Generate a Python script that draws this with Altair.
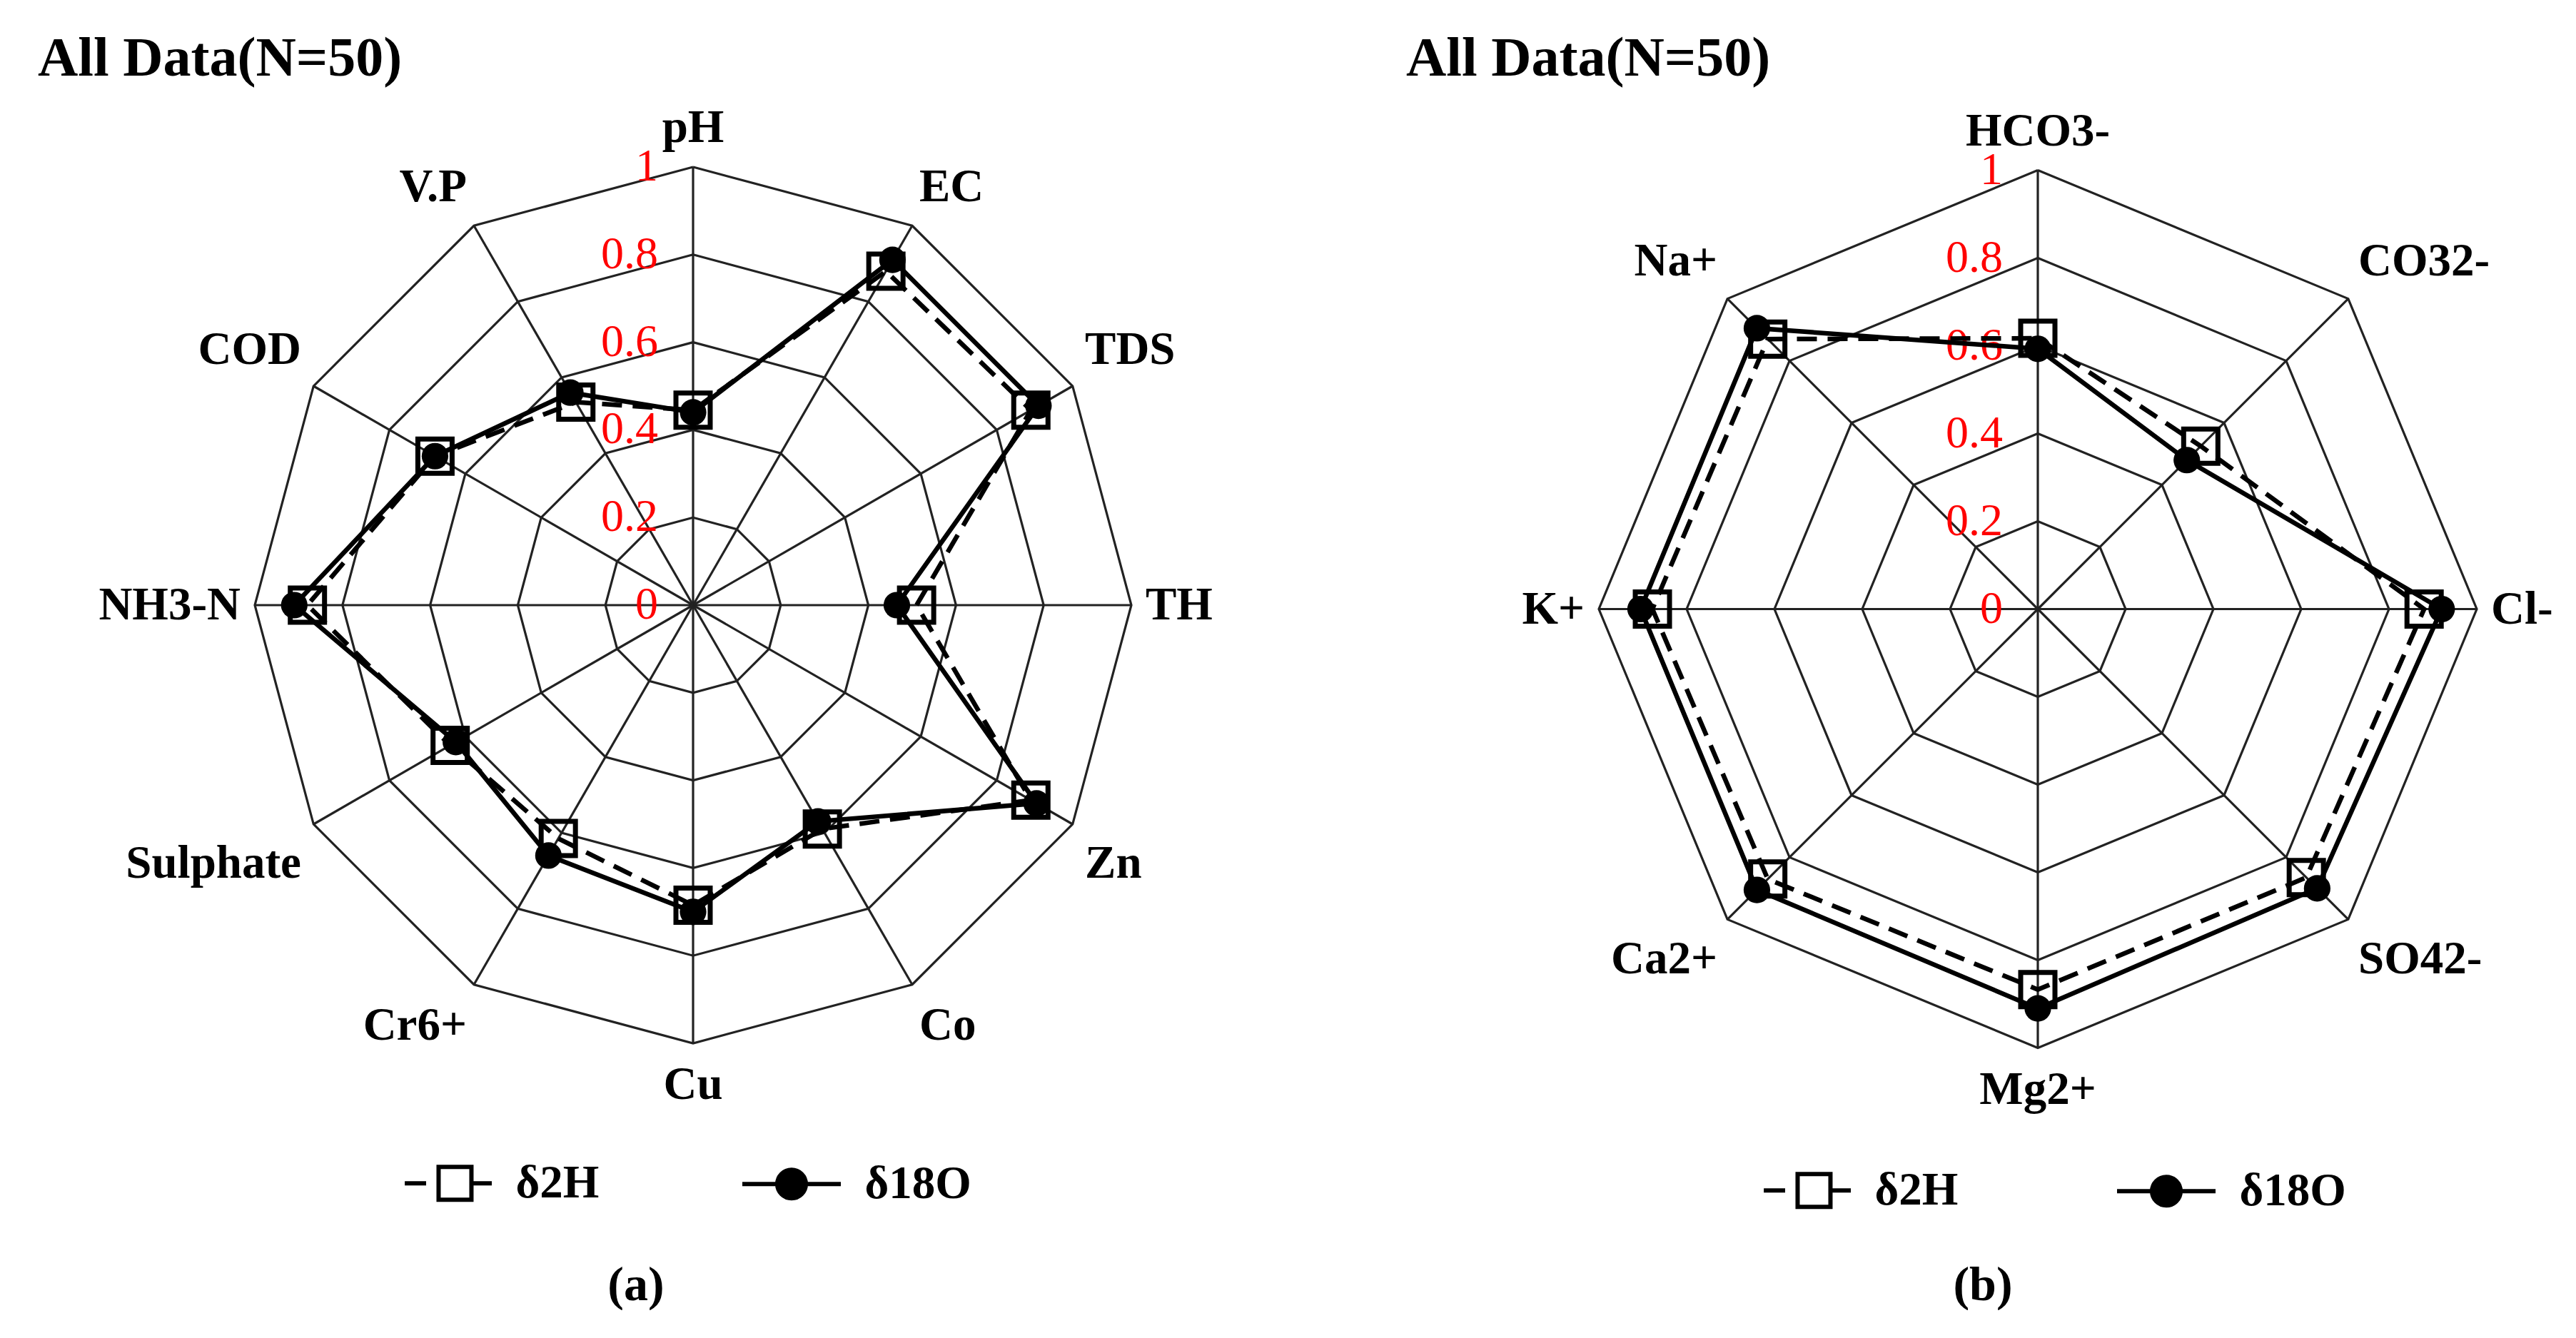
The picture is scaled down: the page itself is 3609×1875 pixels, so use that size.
import altair as alt
import pandas as pd

# ---------------- data ----------------
CATS_A = ["pH", "EC", "TDS", "TH", "Zn", "Co", "Cu", "Cr6+", "Sulphate", "NH3-N", "COD", "V.P"]
D2H_A = [0.445, 0.88, 0.89, 0.51, 0.89, 0.59, 0.685, 0.615, 0.64, 0.88, 0.68, 0.535]
D18O_A = [0.44, 0.91, 0.91, 0.465, 0.905, 0.57, 0.70, 0.66, 0.625, 0.91, 0.68, 0.56]

CATS_B = ["HCO3-", "CO32-", "Cl-", "SO42-", "Mg2+", "Ca2+", "K+", "Na+"]
D2H_B = [0.617, 0.525, 0.88, 0.865, 0.867, 0.87, 0.878, 0.87]
D18O_B = [0.593, 0.48, 0.92, 0.90, 0.91, 0.905, 0.905, 0.905]

SERIES = ["δ2H", "δ18O"]
RINGS = [0.2, 0.4, 0.6, 0.8, 1.0]
TICK_VALUES = [0, 0.2, 0.4, 0.6, 0.8, 1.0]
TICK_LABELS = ["0", "0.2", "0.4", "0.6", "0.8", "1"]
TITLE = "All Data(N=50)"
SUBLABELS = ["(a)", "(b)"]

# ---------------- style ----------------
FONT = "Liberation Serif"
GRID = "#222222"
SQ_PATH = "M-2.3,0H-1.0M-0.24,-1H1.76V1H-0.24ZM1.76,0H3"
CI_PATH = "M-3,0H3M-0.87,0A0.87,0.87,0,1,0,0.87,0A0.87,0.87,0,1,0,-0.87,0Z"


def radar(cats, v2h, v18o, R, W, H, xdom, ydom, leg_x, leg_y, col_pad, title_dx):
    n = len(cats)
    ang = f"2*PI*datum.idx/{n}"
    xs = alt.X("x:Q", scale=alt.Scale(domain=xdom, nice=False, zero=False), axis=None)
    ys = alt.Y("y:Q", scale=alt.Scale(domain=ydom, nice=False, zero=False), axis=None)

    recs = []
    for s, vals in zip(SERIES, (v2h, v18o)):
        for i in range(n + 1):
            recs.append({"series": s, "idx": i, "cat": cats[i % n], "value": vals[i % n]})
    data = pd.DataFrame(recs)

    ring_df = pd.DataFrame([{"ring": r, "idx": i} for r in RINGS for i in range(n + 1)])
    rings = (
        alt.Chart(ring_df)
        .transform_calculate(x=f"datum.ring*sin({ang})", y=f"datum.ring*cos({ang})")
        .mark_line(color=GRID, strokeWidth=3.2)
        .encode(x=xs, y=ys, detail="ring:N", order="idx:Q")
    )

    spoke_df = pd.DataFrame({"idx": list(range(n))})
    spokes = (
        alt.Chart(spoke_df)
        .transform_calculate(x0="0", y0="0", x=f"sin({ang})", y=f"cos({ang})")
        .mark_rule(color=GRID, strokeWidth=3.2)
        .encode(
            x=alt.X("x0:Q", scale=alt.Scale(domain=xdom, nice=False, zero=False), axis=None),
            y=alt.Y("y0:Q", scale=alt.Scale(domain=ydom, nice=False, zero=False), axis=None),
            x2="x:Q",
            y2="y:Q",
        )
    )

    tick_df = pd.DataFrame({"v": TICK_VALUES, "label": TICK_LABELS})
    ticks = (
        alt.Chart(tick_df)
        .transform_calculate(x="0", y="datum.v")
        .mark_text(align="right", baseline="middle", dx=-49, color="#ff0000", font=FONT, fontSize=64)
        .encode(x=xs, y=ys, text="label:N")
    )

    cat_df = pd.DataFrame({"idx": list(range(n)), "cat": cats})
    cbase = (
        alt.Chart(cat_df)
        .transform_calculate(s=f"sin({ang})", c=f"cos({ang})")
        .transform_calculate(
            x=f"datum.s*(1+20/{R})",
            y=f"datum.c + (datum.c > 0.01 ? (28+7*abs(datum.c))/{R} : (datum.c < -0.01 ? -(20+7*abs(datum.c))/{R} : 0))",
            ha="datum.s > 0.01 ? 'left' : (datum.s < -0.01 ? 'right' : 'center')",
            vb="datum.c > 0.01 ? 'alphabetic' : (datum.c < -0.01 ? 'top' : 'middle')",
        )
    )
    cat_layers = []
    for ha in ["left", "center", "right"]:
        for vb in ["alphabetic", "top", "middle"]:
            cat_layers.append(
                cbase.transform_filter(f"datum.ha == '{ha}' && datum.vb == '{vb}'")
                .mark_text(align=ha, baseline=vb, font=FONT, fontSize=65, fontWeight="bold", color="black")
                .encode(x=xs, y=ys, text="cat:N")
            )

    dbase = alt.Chart(data).transform_calculate(
        x=f"datum.value*sin({ang})", y=f"datum.value*cos({ang})"
    )
    s0 = f"datum.series == '{SERIES[0]}'"
    s1 = f"datum.series == '{SERIES[1]}'"
    line2h = dbase.transform_filter(s0).mark_line(
        color="black", strokeWidth=6.5, strokeDash=[28, 15]
    ).encode(x=xs, y=ys, order="idx:Q")
    pts2h = dbase.transform_filter(f"{s0} && datum.idx < {n}").mark_point(
        shape="square", size=2304, filled=False, color="black", strokeWidth=7, opacity=1
    ).encode(x=xs, y=ys)
    line18 = dbase.transform_filter(s1).mark_line(color="black", strokeWidth=6.5).encode(
        x=xs, y=ys, order="idx:Q"
    )
    pts18 = dbase.transform_filter(f"{s1} && datum.idx < {n}").mark_point(
        shape="circle", size=1385, filled=True, color="black", opacity=1
    ).encode(x=xs, y=ys)

    leg_params = alt.Legend(
        title=None, orient="none", legendX=leg_x, legendY=leg_y, direction="horizontal",
        columns=2, columnPadding=col_pad, labelFont=FONT, labelFontSize=65, labelFontWeight="bold",
        labelColor="black", labelOffset=70, symbolSize=2116, symbolStrokeWidth=6,
        padding=0, labelLimit=0, symbolOpacity=1,
    )
    leg = (
        alt.Chart(pd.DataFrame({"series": SERIES}))
        .transform_filter("false")
        .mark_point(filled=False, color="black", strokeWidth=6, opacity=1)
        .encode(
            shape=alt.Shape("series:N", sort=SERIES,
                            scale=alt.Scale(domain=SERIES, range=[SQ_PATH, CI_PATH]), legend=leg_params),
            fill=alt.Fill("series:N", sort=SERIES,
                          scale=alt.Scale(domain=SERIES, range=["transparent", "black"]), legend=leg_params),
            stroke=alt.Stroke("series:N", sort=SERIES,
                              scale=alt.Scale(domain=SERIES, range=["black", "black"]), legend=leg_params),
        )
    )

    return alt.layer(
        rings, spokes, ticks, *cat_layers, line2h, pts2h, line18, pts18, leg
    ).properties(
        width=W, height=H,
        title=alt.TitleParams(TITLE, anchor="start", frame="group", font=FONT, fontSize=78,
                              fontWeight="bold", color="black", offset=20, dx=title_dx),
    )


RA, RB = 614.0, 615.0
PLOT_TOP, PLOT_BOT = 141.0, 1720.0
H = PLOT_BOT - PLOT_TOP
WA, WB = 1872, 1700
CXA, CYA = 970.0 - 8, 847.0
CXB, CYB = 2852.0 - 8 - WA, 852.5

pa = radar(
    CATS_A, D2H_A, D18O_A, RA, WA, H,
    [-CXA / RA, (WA - CXA) / RA], [-(PLOT_BOT - CYA) / RA, (CYA - PLOT_TOP) / RA],
    578.5, 1483.5, 188, 44,
)
pb = radar(
    CATS_B, D2H_B, D18O_B, RB, WB, H,
    [-CXB / RB, (WB - CXB) / RB], [-(PLOT_BOT - CYB) / RB, (CYB - PLOT_TOP) / RB],
    608.5, 1493.5, 210, 87,
)

wa = alt.vconcat(pa).properties(
    title=alt.TitleParams(SUBLABELS[0], orient="bottom", anchor="middle", frame="bounds", font=FONT,
                          fontSize=68, color="black", offset=46, dx=-54)
)
wb = alt.vconcat(pb).properties(
    title=alt.TitleParams(SUBLABELS[1], orient="bottom", anchor="middle", frame="bounds", font=FONT,
                          fontSize=68, color="black", offset=46, dx=45)
)

chart = (
    alt.hconcat(wa, wb, spacing=0)
    .resolve_scale(shape="independent", fill="independent", stroke="independent")
    .resolve_legend(shape="independent", fill="independent", stroke="independent")
    .properties(padding={"left": 0, "top": 35, "right": 0, "bottom": 0}, background="white")
    .configure_view(stroke="transparent", fill="white")
)

chart.save("out.html", embed_options={"renderer": "svg", "actions": False})
